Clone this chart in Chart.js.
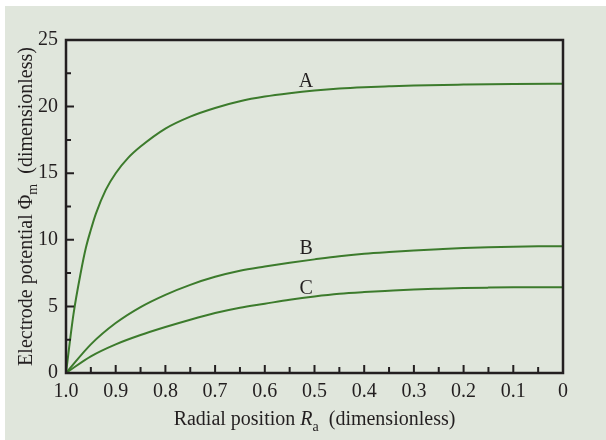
<!DOCTYPE html>
<html>
<head>
<meta charset="utf-8">
<script src="https://cdn.jsdelivr.net/npm/chart.js@4.4.1/dist/chart.umd.min.js"></script>
<style>
  html, body { margin: 0; padding: 0; background: #ffffff; }
  canvas { display: block; }
</style>
</head>
<body>
<canvas id="potentialChart" width="606" height="440"></canvas>
<script>
// values
const radialA = [1.0, 0.985, 0.97, 0.96, 0.95, 0.94, 0.92, 0.90, 0.875, 0.85, 0.80, 0.75, 0.70, 0.65, 0.60, 0.55, 0.50, 0.45, 0.40, 0.35, 0.30, 0.20, 0.10, 0];
const potentialA = [0, 4.4, 7.6, 9.4, 10.75, 11.95, 13.75, 15.0, 16.15, 17.0, 18.35, 19.25, 19.9, 20.4, 20.75, 21.0, 21.2, 21.35, 21.45, 21.52, 21.58, 21.65, 21.7, 21.71];

const radialBC = [1.0, 0.95, 0.90, 0.85, 0.80, 0.75, 0.70, 0.65, 0.60, 0.55, 0.50, 0.45, 0.40, 0.35, 0.30, 0.25, 0.20, 0.15, 0.10, 0.05, 0];
const potentialB = [0, 2.15, 3.75, 4.95, 5.87, 6.62, 7.22, 7.68, 7.99, 8.27, 8.53, 8.77, 8.95, 9.08, 9.19, 9.29, 9.38, 9.44, 9.48, 9.51, 9.52];
const potentialC = [0, 1.25, 2.15, 2.85, 3.45, 4.0, 4.5, 4.9, 5.2, 5.5, 5.75, 5.95, 6.08, 6.18, 6.27, 6.33, 6.38, 6.41, 6.43, 6.44, 6.44];

const curveNames = ['A', 'B', 'C'];
const xTickValues = [1.0, 0.9, 0.8, 0.7, 0.6, 0.5, 0.4, 0.3, 0.2, 0.1, 0];
const yTickValues = [0, 5, 10, 15, 20, 25];

const SERIF = "'Liberation Serif', 'Times New Roman', serif";
const INK = '#231f20';
const GREEN = '#3c7b2c';

function toPoints(xs, ys) {
    return xs.map((x, i) => ({ x: x, y: ys[i] }));
}

// background, frame, inner ticks, axis titles and curve labels
const figurePlugin = {
    id: 'figure',
    beforeDraw(chart) {
        const ctx = chart.ctx;
        ctx.save();
        ctx.fillStyle = '#ffffff';
        ctx.fillRect(0, 0, chart.width, chart.height);
        ctx.fillStyle = '#e0e6dc';
        ctx.fillRect(5, 6, chart.width - 5, chart.height - 6);
        ctx.restore();
    },
    afterDraw(chart) {
        const ctx = chart.ctx;
        const area = chart.chartArea;
        const xs = chart.scales.x;
        const ys = chart.scales.y;
        ctx.save();

        // inner tick marks
        ctx.strokeStyle = INK;
        ctx.lineWidth = 2;
        ctx.beginPath();
        for (let i = 0; i <= 10; i++) {
            const py = ys.getPixelForValue(i * 2.5);
            const len = i % 2 === 0 ? 8 : 5;
            ctx.moveTo(area.left, py);
            ctx.lineTo(area.left + len, py);
        }
        for (let i = 0; i <= 20; i++) {
            const px = xs.getPixelForValue(i * 0.05);
            const len = i % 2 === 0 ? 8 : 6;
            ctx.moveTo(px, area.bottom);
            ctx.lineTo(px, area.bottom - len);
        }
        ctx.stroke();

        // frame
        ctx.lineWidth = 2.5;
        ctx.strokeRect(area.left, area.top, area.right - area.left, area.bottom - area.top);

        // curve labels
        ctx.fillStyle = INK;
        ctx.font = '20px ' + SERIF;
        ctx.textAlign = 'center';
        ctx.textBaseline = 'alphabetic';
        const labelY = [21.5, 8.95, 5.95];
        curveNames.forEach((name, i) => {
            ctx.fillText(name, xs.getPixelForValue(0.517), ys.getPixelForValue(labelY[i]));
        });

        // x axis title: Radial position R_a (dimensionless)
        ctx.textAlign = 'left';
        const normal = '20px ' + SERIF;
        const italic = 'italic 20px ' + SERIF;
        const small = '14px ' + SERIF;
        const xParts = [
            { t: 'Radial position ', f: normal, dy: 0 },
            { t: 'R', f: italic, dy: 0 },
            { t: 'a', f: small, dy: 6 },
            { t: '  (dimensionless)', f: normal, dy: 0 }
        ];
        drawParts(ctx, xParts, (area.left + area.right) / 2, 425);

        // y axis title: Electrode potential Φ_m (dimensionless)
        ctx.translate(31.5, (area.top + area.bottom) / 2);
        ctx.rotate(-Math.PI / 2);
        const yParts = [
            { t: 'Electrode potential \u03A6', f: normal, dy: 0 },
            { t: 'm', f: small, dy: 5 },
            { t: '  (dimensionless)', f: normal, dy: 0 }
        ];
        drawParts(ctx, yParts, 0, 0);
        ctx.restore();
    }
};

function drawParts(ctx, parts, cx, baseline) {
    let total = 0;
    parts.forEach(p => { ctx.font = p.f; p.w = ctx.measureText(p.t).width; total += p.w; });
    let x = cx - total / 2;
    parts.forEach(p => {
        ctx.font = p.f;
        ctx.fillText(p.t, x, baseline + p.dy);
        x += p.w;
    });
}

const lineStyle = {
    borderColor: GREEN,
    backgroundColor: GREEN,
    borderWidth: 2,
    pointRadius: 0,
    showLine: true,
    fill: false,
    cubicInterpolationMode: 'monotone'
};

new Chart(document.getElementById('potentialChart'), {
    type: 'scatter',
    data: {
        datasets: [
            Object.assign({ label: curveNames[0], data: toPoints(radialA, potentialA) }, lineStyle),
            Object.assign({ label: curveNames[1], data: toPoints(radialBC, potentialB) }, lineStyle),
            Object.assign({ label: curveNames[2], data: toPoints(radialBC, potentialC) }, lineStyle)
        ]
    },
    options: {
        responsive: false,
        animation: false,
        layout: { padding: { left: 0, top: 40, right: 43, bottom: 0 } },
        plugins: {
            legend: { display: false },
            tooltip: { enabled: false }
        },
        scales: {
            x: {
                type: 'linear',
                reverse: true,
                min: 0,
                max: 1,
                afterFit(scale) { scale.height = 67; },
                afterBuildTicks(scale) { scale.ticks = xTickValues.map(v => ({ value: v })); },
                grid: { display: false, drawTicks: false },
                border: { display: false },
                ticks: {
                    padding: 7,
                    color: INK,
                    font: { family: SERIF, size: 20 },
                    maxRotation: 0,
                    callback: v => v === 1 ? '1.0' : (v === 0 ? '0' : v.toFixed(1))
                }
            },
            y: {
                type: 'linear',
                min: 0,
                max: 25,
                afterFit(scale) { scale.width = 66; },
                afterBuildTicks(scale) { scale.ticks = yTickValues.map(v => ({ value: v })); },
                grid: { display: false, drawTicks: false },
                border: { display: false },
                ticks: {
                    padding: 8,
                    color: INK,
                    font: { family: SERIF, size: 20 },
                    callback: v => String(v)
                }
            }
        }
    },
    plugins: [figurePlugin]
});
</script>
</body>
</html>
